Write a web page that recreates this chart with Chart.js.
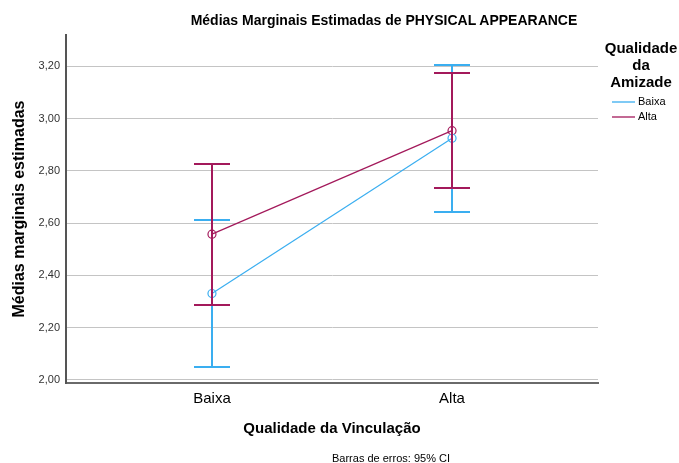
<!DOCTYPE html>
<html>
<head>
<meta charset="utf-8">
<script src="https://cdn.jsdelivr.net/npm/chart.js@4/dist/chart.umd.min.js"></script>
<style>
  html, body { margin: 0; padding: 0; background: #fff; }
  #wrap { position: relative; width: 679px; height: 463px; font-family: "Liberation Sans", Arial, sans-serif; color: #000; }
  #c { position: absolute; left: 0; top: 0; }
  .txt { position: absolute; white-space: nowrap; }
  #title { left: 0; width: 768px; top: 12px; text-align: center; font-weight: bold; font-size: 14px; }
  #legTitle { left: 596px; width: 90px; top: 39px; text-align: center; font-weight: bold; font-size: 15px; line-height: 17px; }
  .legItem { position: absolute; left: 612px; font-size: 11px; width: 60px; height: 14px; }
  .legItem span.ln { position: absolute; left: 0; top: 7px; width: 23px; height: 2px; opacity: 0.65; }
  .legItem span.lb { position: absolute; left: 26px; top: 1px; }
  #foot { left: 0; width: 782px; top: 452px; text-align: center; font-size: 11px; }
</style>
</head>
<body>
<div id="wrap">
  <canvas id="c" width="679" height="463"></canvas>
  <div class="txt" id="title">Médias Marginais Estimadas de PHYSICAL APPEARANCE</div>
  <div class="txt" id="legTitle">Qualidade<br>da<br>Amizade</div>
  <div class="legItem" style="top:94px;"><span class="ln" style="background:#3AAEF0"></span><span class="lb">Baixa</span></div>
  <div class="legItem" style="top:109px;"><span class="ln" style="background:#A3195B"></span><span class="lb">Alta</span></div>
  <div class="txt" id="foot">Barras de erros: 95% CI</div>
</div>
<script>
const categories = ['Baixa', 'Alta'];
const seriesNames = ['Baixa', 'Alta'];
const baixaMeans = [2.331, 2.925];
const baixaLower = [2.051, 2.644];
const baixaUpper = [2.613, 3.206];
const altaMeans = [2.558, 2.954];
const altaLower = [2.287, 2.735];
const altaUpper = [2.828, 3.175];
const yTicks = [2.0, 2.2, 2.4, 2.6, 2.8, 3.0, 3.2];

const BLUE = '#3AAEF0';
const RED = '#A3195B';

function pts(arr) { return arr.map((v, i) => ({ x: i, y: v })); }

const errorBars = {
  id: 'errorBars',
  afterDatasetsDraw(chart) {
    const ctx = chart.ctx;
    const xs = chart.scales.x, ys = chart.scales.y;
    chart.data.datasets.forEach((ds) => {
      ctx.save();
      ctx.strokeStyle = ds.borderColor;
      ctx.lineWidth = 2;
      ds.lower.forEach((lo, i) => {
        const hi = ds.upper[i];
        const x = Math.round(xs.getPixelForValue(i));
        const yl = Math.round(ys.getPixelForValue(lo));
        const yh = Math.round(ys.getPixelForValue(hi));
        ctx.beginPath();
        ctx.moveTo(x, yl); ctx.lineTo(x, yh);
        ctx.moveTo(x - 18, yl); ctx.lineTo(x + 18, yl);
        ctx.moveTo(x - 18, yh); ctx.lineTo(x + 18, yh);
        ctx.stroke();
      });
      ctx.restore();
    });
  }
};

new Chart(document.getElementById('c'), {
  type: 'line',
  data: {
    datasets: [
      { label: seriesNames[0], data: pts(baixaMeans), lower: baixaLower, upper: baixaUpper,
        borderColor: BLUE, backgroundColor: 'rgba(0,0,0,0)', borderWidth: 1.2,
        pointRadius: 4, pointBorderWidth: 1.2, pointBorderColor: BLUE, pointBackgroundColor: 'rgba(0,0,0,0)', tension: 0 },
      { label: seriesNames[1], data: pts(altaMeans), lower: altaLower, upper: altaUpper,
        borderColor: RED, backgroundColor: 'rgba(0,0,0,0)', borderWidth: 1.2,
        pointRadius: 4, pointBorderWidth: 1.2, pointBorderColor: RED, pointBackgroundColor: 'rgba(0,0,0,0)', tension: 0 }
    ]
  },
  options: {
    responsive: false,
    animation: false,
    layout: { padding: { left: 0, top: 35, right: 81, bottom: 0 } },
    plugins: { legend: { display: false }, title: { display: false }, tooltip: { enabled: false } },
    scales: {
      x: {
        type: 'linear', min: -0.608, max: 1.608,
        afterBuildTicks: (s) => { s.ticks = categories.map((c, i) => ({ value: i })); },
        afterFit: (s) => { s.height = 80; },
        ticks: { callback: (v) => categories[v], font: { family: 'Liberation Sans', size: 15 }, color: '#000', padding: 7, maxRotation: 0 },
        grid: { display: false, drawTicks: false },
        border: { display: true, color: '#6a6a6a', width: 2 },
        title: { display: true, text: 'Qualidade da Vinculação', color: '#000',
                 font: { family: 'Liberation Sans', size: 15, weight: 'bold' }, padding: { top: 0, bottom: 25 } }
      },
      y: {
        min: 1.9885, max: 3.32,
        afterBuildTicks: (s) => { s.ticks = yTicks.map(v => ({ value: v })); },
        afterFit: (s) => { s.width = 66; },
        ticks: { callback: (v) => v.toFixed(2).replace('.', ','), font: { family: 'Liberation Sans', size: 11 }, color: '#333', padding: 6 },
        grid: { color: '#c4c4c4', drawTicks: false, lineWidth: 1 },
        border: { display: true, color: '#555', width: 2 },
        title: { display: true, text: 'Médias marginais estimadas', color: '#000',
                 font: { family: 'Liberation Sans', size: 16, weight: 'bold' }, padding: { top: 10, bottom: 0 } }
      }
    }
  },
  plugins: [errorBars]
});
</script>
</body>
</html>
